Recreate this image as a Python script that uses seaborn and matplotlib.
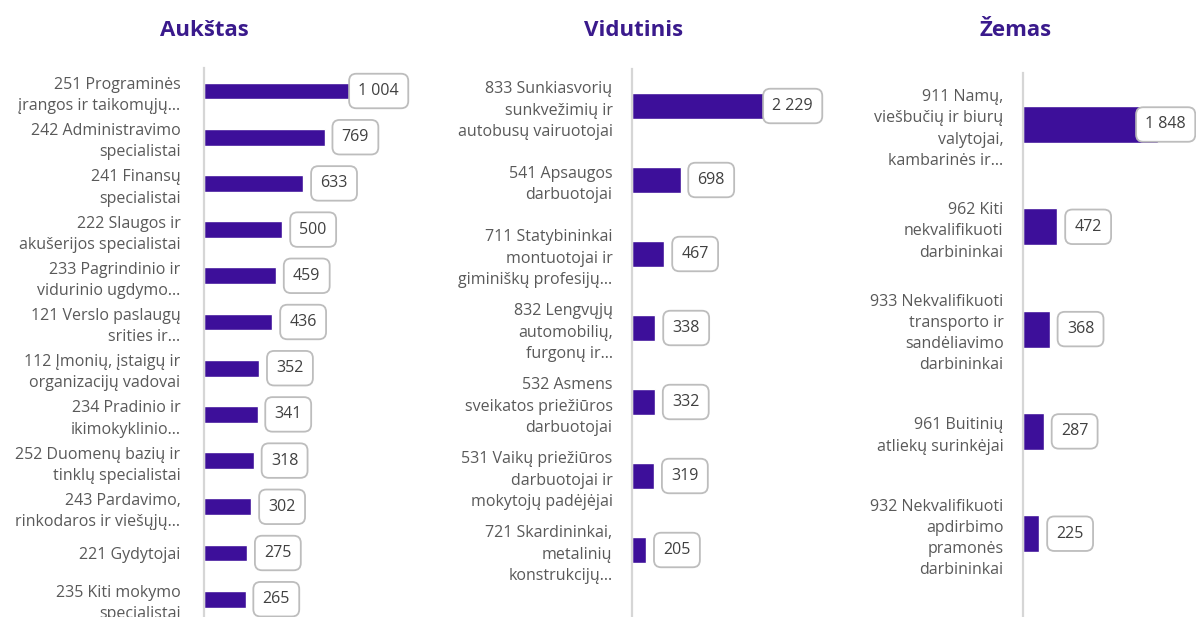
import matplotlib
matplotlib.use("Agg")
import matplotlib.pyplot as plt
import seaborn as sns
import pandas as pd

# data
titles = ["Aukštas", "Vidutinis", "Žemas"]

high_labels = [
    "251 Programinės\nįrangos ir taikomųjų…",
    "242 Administravimo\nspecialistai",
    "241 Finansų\nspecialistai",
    "222 Slaugos ir\nakušerijos specialistai",
    "233 Pagrindinio ir\nvidurinio ugdymo…",
    "121 Verslo paslaugų\nsrities ir…",
    "112 Įmonių, įstaigų ir\norganizacijų vadovai",
    "234 Pradinio ir\nikimokyklinio…",
    "252 Duomenų bazių ir\ntinklų specialistai",
    "243 Pardavimo,\nrinkodaros ir viešųjų…",
    "221 Gydytojai",
    "235 Kiti mokymo\nspecialistai",
]
high_values = [1004, 769, 633, 500, 459, 436, 352, 341, 318, 302, 275, 265]

mid_labels = [
    "833 Sunkiasvorių\nsunkvežimių ir\nautobusų vairuotojai",
    "541 Apsaugos\ndarbuotojai",
    "711 Statybininkai\nmontuotojai ir\ngiminiškų profesijų…",
    "832 Lengvųjų\nautomobilių,\nfurgonų ir…",
    "532 Asmens\nsveikatos priežiūros\ndarbuotojai",
    "531 Vaikų priežiūros\ndarbuotojai ir\nmokytojų padėjėjai",
    "721 Skardininkai,\nmetalinių\nkonstrukcijų…",
]
mid_values = [2229, 698, 467, 338, 332, 319, 205]

low_labels = [
    "911 Namų,\nviešbučių ir biurų\nvalytojai,\nkambarinės ir…",
    "962 Kiti\nnekvalifikuoti\ndarbininkai",
    "933 Nekvalifikuoti\ntransporto ir\nsandėliavimo\ndarbininkai",
    "961 Buitinių\natliekų surinkėjai",
    "932 Nekvalifikuoti\napdirbimo\npramonės\ndarbininkai",
]
low_values = [1848, 472, 368, 287, 225]

BAR = "#3D0F9A"
TITLE = "#3A1A8C"
GREY = "#595959"

sns.set_theme(style="white")
plt.rcParams["font.family"] = ["Open Sans", "DejaVu Sans"]

W, H = 1196, 617
fig = plt.figure(figsize=(W / 100, H / 100), dpi=100)

# layout in pixels: (axis left, axes right, x max, first bar centre, slot height, label pad pt, title x)
panels = [
    (high_labels, high_values, 204, 409, 1306, 91.0, 46.2, 17, 204),
    (mid_labels, mid_values, 632, 823, 2748, 106.0, 74.0, 14, 634),
    (low_labels, low_values, 1023, 1196, 2370, 124.5, 102.3, 14, 1016),
]

for title, (labels, values, left, right, xmax, first, slot, pad, tx) in zip(titles, panels):
    top_px = first - slot / 2
    ax = fig.add_axes([left / W, 0, (right - left) / W, 1 - top_px / H])
    df = pd.DataFrame({"label": labels, "value": values})
    sns.barplot(data=df, y="label", x="value", orient="h", color=BAR,
                width=0.36, saturation=1, ax=ax)
    ax.set_xlim(0, xmax)
    ax.set_ylim(-0.5 + (H - top_px) / slot, -0.5)
    ax.set_xlabel("")
    ax.set_ylabel("")
    ax.set_xticks([])
    ax.set_yticks(range(len(labels)))
    ax.set_yticklabels(labels, ha="right", linespacing=1.43, color=GREY, fontsize=11.5)
    ax.tick_params(axis="y", length=0, pad=pad)
    for s in ["top", "right", "bottom"]:
        ax.spines[s].set_visible(False)
    ax.spines["left"].set_color("#D6D6D6")
    ax.spines["left"].set_linewidth(1.6)
    ax.patch.set_alpha(0)

    box = dict(boxstyle="round,pad=0.58,rounding_size=0.45", fc="white",
               ec="#BDBDBD", lw=1.3)
    vmax = max(values)
    for i, v in enumerate(values):
        txt = f"{v:,}".replace(",", " ")
        if v == vmax:
            ax.annotate(txt, xy=(1, i), xycoords=("axes fraction", "data"),
                        xytext=(-10, 0), textcoords="offset pixels",
                        ha="right", va="center", fontsize=11.5, color="#404040",
                        bbox=box, annotation_clip=False)
        else:
            ax.annotate(txt, xy=(v, i), xytext=(17, 0), textcoords="offset pixels",
                        ha="left", va="center", fontsize=11.5, color="#404040",
                        bbox=box, annotation_clip=False)

    fig.text(tx / W, 1 - 30 / H, title, ha="center", va="center",
             fontsize=16, fontweight="bold", color=TITLE)

fig.savefig("out.png", dpi=100)
